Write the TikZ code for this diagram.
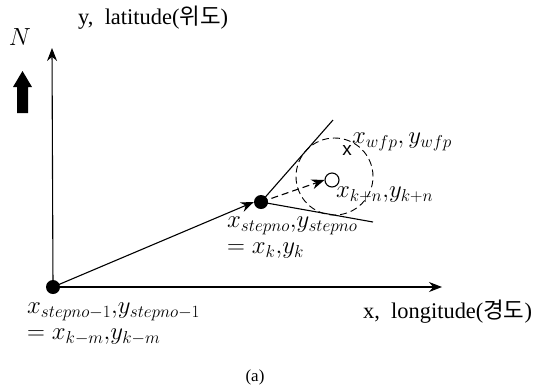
\documentclass[tikz,border=0pt]{standalone}
\usepackage{fontspec}
\setmainfont{Liberation Serif}
\newfontfamily\kor{Noto Sans CJK KR}
\newfontfamily\sansx{Liberation Sans}
\usetikzlibrary{arrows.meta}
\begin{document}
\begin{tikzpicture}[x=1bp,y=-1bp,
  axis/.style={line width=1.1bp,-{Stealth[length=13bp,width=10bp]}},
  seg/.style={line width=1.1bp},
  dotnode/.style={circle,fill=black,inner sep=0pt,minimum size=14bp},
  opennode/.style={circle,draw=black,fill=white,line width=1.1bp,inner sep=0pt,minimum size=14bp},
  lbl/.style={inner sep=0pt,font=\fontsize{22.5}{26}\selectfont},
  mlbl/.style={inner sep=0pt,anchor=west,font=\fontsize{23}{26}\selectfont},
]
\useasboundingbox (0,0) rectangle (535,385);
% axes
\node[dotnode] (O) at (53,287) {};
\coordinate (Ytip) at (52,48);
\coordinate (Xtip) at (442,287);
\draw[axis] (O.center) -- (Ytip);
\draw[axis] (O.center) -- (Xtip);
\node[lbl,anchor=west] (ylab) at (78,18) {y,\ \ latitude({\kor 위도})};
\node[lbl,anchor=west] (xlab) at (363,312) {x,\ \ longitude({\kor 경도})};
% north
\node[inner sep=0pt,font=\fontsize{28}{30}\selectfont] (N) at (20,37) {$N$};
\fill (17,113) -- (28,113) -- (28,87) -- (32,87) -- (22.5,71) -- (13,87) -- (17,87) -- cycle;
% step point
\node[dotnode] (S) at (261,202) {};
\draw[seg,-{Stealth[length=13bp,width=10bp]}] (O.center) -- (S.west);
\coordinate (U) at (333,120);
\coordinate (L) at (373,222);
\draw[seg] (S.center) -- (U);
\draw[seg] (S.center) -- (L);
% dashed circle
\node[circle,draw,line width=0.9bp,dash pattern=on 7bp off 4bp,minimum size=77bp,inner sep=0pt] (C) at (334.5,176.5) {};
\node[opennode] (W) at (332,180) {};
\draw[seg,dash pattern=on 7bp off 4bp,-{Stealth[length=13bp,width=10bp]}] (S.center) -- (W.west);
\node[inner sep=0pt,font=\sansx\fontsize{19}{20}\selectfont] (X) at (347,150) {x};
% labels
\node[mlbl] (wfp) at (352,142) {$x_{wfp}, y_{wfp}$};
\node[mlbl] (kn) at (336,195) {$x_{k+n}{,}y_{k+n}$};
\node[mlbl] (st1) at (227,226) {$x_{stepno}{,}y_{stepno}$};
\node[mlbl] (st2) at (227,251) {$=x_k{,}y_k$};
\node[mlbl] (b1) at (27,312) {$x_{stepno-1}{,}y_{stepno-1}$};
\node[mlbl] (b2) at (27,337) {$=x_{k-m}{,}y_{k-m}$};
\node[inner sep=0pt,font=\fontsize{17}{19}\selectfont] (cap) at (255,377) {(a)};
\end{tikzpicture}
\end{document}
